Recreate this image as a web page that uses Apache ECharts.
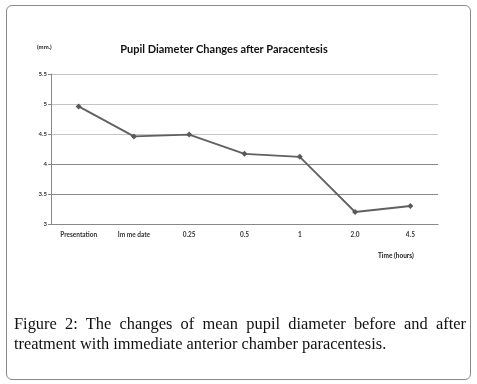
<!DOCTYPE html>
<html>
<head>
<meta charset="utf-8">
<script src="https://cdn.jsdelivr.net/npm/echarts@6/dist/echarts.min.js"></script>
<style>
  html, body { margin: 0; padding: 0; background: #fff; }
  .frame {
    position: absolute; left: 6px; top: 5px; width: 463px; height: 373px;
    border: 1.5px solid #8a8a8a; border-radius: 6px;
  }
  #chart { position: absolute; left: 0; top: 0; width: 477px; height: 384px; }
  .caption {
    position: absolute; left: 14px; top: 314px; width: 452px;
    font-family: "Liberation Serif", serif; font-size: 16.4px; line-height: 20px;
    color: #111; text-align: justify; text-align-last: left;
  }
</style>
</head>
<body>
<div class="frame"></div>
<div id="chart"></div>
<div class="caption">Figure 2: The changes of mean pupil diameter before and after treatment with immediate anterior chamber paracentesis.</div>
<script>
// time points
const categories = ['Presentation', 'Im me date', '0.25', '0.5', '1', '2.0', '4.5'];
// mean pupil diameter (mm)
const diameter = [4.96, 4.46, 4.49, 4.17, 4.12, 3.2, 3.3];
const yTicks = [3, 5.5, 0.5]; // min, max, step

const chart = echarts.init(document.getElementById('chart'));
const options = {
    animation: false,
    title: {
        text: 'Pupil Diameter Changes after Paracentesis',
        left: 219,
        top: 39,
        textAlign: 'center',
        textStyle: {
            fontFamily: 'Lato',
            fontSize: 11,
            fontWeight: 'bold',
            color: '#111'
        }
    },
    graphic: [
        {
            type: 'text', left: 37, top: 44,
            style: { text: '(mm.)', font: 'bold 6px Lato', fill: '#222' }
        },
        {
            type: 'text', left: 378, top: 252,
            style: { text: 'Time (hours)', font: 'bold 6.5px Lato', fill: '#222' }
        }
    ],
    grid: {
        left: 51,
        right: 39,
        top: 74,
        bottom: 160
    },
    xAxis: {
        type: 'category',
        data: categories,
        axisLine: { lineStyle: { color: '#888', width: 1 } },
        axisTick: { length: 3, lineStyle: { color: '#888' } },
        axisLabel: {
            margin: 7,
            fontFamily: 'Lato',
            fontSize: 6.5,
            fontWeight: 'bold',
            color: '#333',
            interval: 0
        }
    },
    yAxis: {
        type: 'value',
        min: yTicks[0],
        max: yTicks[1],
        interval: yTicks[2],
        axisLine: { show: true, lineStyle: { color: '#888', width: 1 } },
        axisTick: { show: true, length: 3, lineStyle: { color: '#888' } },
        axisLabel: {
            margin: 4,
            fontFamily: 'Lato',
            fontSize: 6,
            fontWeight: 'bold',
            color: '#333'
        },
        splitLine: {
            lineStyle: {
                color: ['#888', '#888', '#888', '#c4c4c4', '#c4c4c4', '#c4c4c4'],
                width: 1
            }
        }
    },
    series: [{
        type: 'line',
        data: diameter,
        symbol: 'diamond',
        symbolSize: 6,
        itemStyle: { color: '#5a5a5a' },
        lineStyle: { color: '#606060', width: 1.8 }
    }]
};
chart.setOption(options, true);
</script>
</body>
</html>
